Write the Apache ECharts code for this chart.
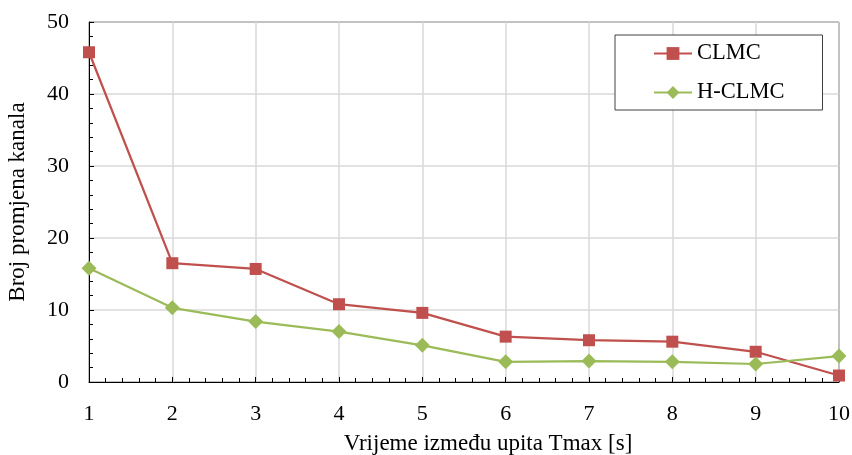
<!DOCTYPE html>
<html><head><meta charset="utf-8">
<script src="https://cdn.jsdelivr.net/npm/echarts@6/dist/echarts.min.js"></script>
<style>html,body{margin:0;padding:0;background:#fff}#c{width:852px;height:455px}</style>
</head><body><div id="c"></div>
<script>
const xValues = [1, 2, 3, 4, 5, 6, 7, 8, 9, 10];
const clmc = [45.8, 16.5, 15.7, 10.8, 9.6, 6.3, 5.8, 5.6, 4.2, 0.9];
const hclmc = [15.8, 10.3, 8.4, 7.0, 5.1, 2.8, 2.9, 2.8, 2.5, 3.6];
const seriesNames = ['CLMC', 'H-CLMC'];
const xName = 'Vrijeme između upita Tmax [s]';
const yName = 'Broj promjena kanala';

const font = '"Liberation Serif", "Times New Roman", serif';
const chart = echarts.init(document.getElementById('c'));
chart.setOption({
  animation: false,
  textStyle: { fontFamily: font },
  grid: { left: 89, right: 13, top: 22, bottom: 73, outerBoundsMode: 'none', containLabel: false,
    show: true, borderColor: '#000', borderWidth: 1, backgroundColor: 'transparent' },
  legend: {
    orient: 'vertical', left: 615, top: 35,
    backgroundColor: '#fff', borderColor: '#404040', borderWidth: 1,
    padding: [7, 38, 6, 38], itemGap: 16, itemWidth: 38, itemHeight: 16,
    textStyle: { fontFamily: font, fontSize: 22.5, color: '#000' },
    data: seriesNames
  },
  xAxis: {
    type: 'value', min: 1, max: 10, interval: 1,
    name: xName, nameLocation: 'middle', nameGap: 50,
    nameTextStyle: { fontFamily: font, fontSize: 23, color: '#000', padding: [0, 0, 0, 48] },
    axisLine: { lineStyle: { color: '#000', width: 1 } },
    axisTick: { inside: true, length: 5, lineStyle: { color: '#000' } },
    minorTick: { show: true, splitNumber: 5, length: 4, lineStyle: { color: '#000' } },
    axisLabel: { fontFamily: font, fontSize: 22, color: '#000', margin: 21 },
    splitLine: { show: true, lineStyle: { color: '#d9d9d9', width: 1.5 } }
  },
  yAxis: {
    type: 'value', min: 0, max: 50, interval: 10,
    name: yName, nameLocation: 'middle', nameGap: 60, nameRotate: 90,
    nameTextStyle: { fontFamily: font, fontSize: 23, color: '#000' },
    axisLine: { show: true, lineStyle: { color: '#000', width: 1 } },
    axisTick: { show: true, inside: true, length: 5, lineStyle: { color: '#000' } },
    minorTick: { show: true, splitNumber: 5, length: 4, lineStyle: { color: '#000' } },
    axisLabel: { fontFamily: font, fontSize: 22, color: '#000', margin: 20 },
    splitLine: { show: true, lineStyle: { color: '#d9d9d9', width: 1.5 } }
  },
  series: [
    {
      name: seriesNames[0], type: 'line',
      data: xValues.map((x, i) => [x, clmc[i]]),
      symbol: 'rect', symbolSize: 12,
      lineStyle: { color: '#C0504D', width: 2.25 },
      itemStyle: { color: '#C0504D' }
    },
    {
      name: seriesNames[1], type: 'line',
      data: xValues.map((x, i) => [x, hclmc[i]]),
      symbol: 'diamond', symbolSize: 15,
      lineStyle: { color: '#9BBB59', width: 2.25 },
      itemStyle: { color: '#9BBB59' }
    }
  ]
});
</script></body></html>
